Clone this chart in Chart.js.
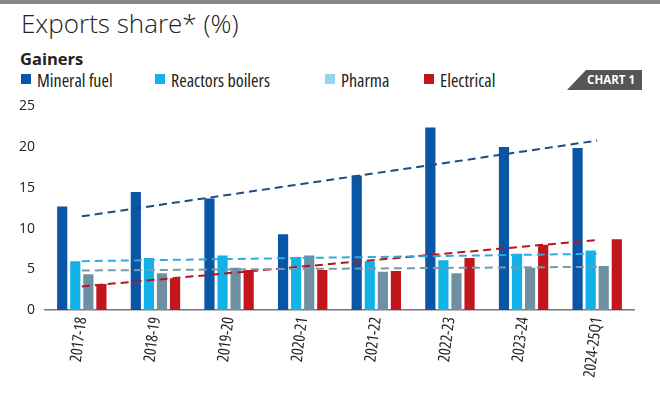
<!DOCTYPE html>
<html>
<head>
<meta charset="utf-8">
<script src="https://cdn.jsdelivr.net/npm/chart.js@4"></script>
<style>
  body { margin: 0; width: 660px; height: 395px; background: #fff; font-family: 'Open Sans', sans-serif; font-stretch: condensed; color: #222; position: relative; overflow: hidden; }
  .topbar { position: absolute; left: 0; top: 0; width: 660px; height: 4px; background: #868686; }
  .title { position: absolute; left: 21px; top: 5px; font-weight: 300; font-size: 26px; font-stretch: normal; }
  .sub { position: absolute; left: 20px; top: 47px; font-weight: 700; font-size: 16.5px; font-stretch: normal; }
  .legend { position: absolute; top: 68px; left: 0; font-size: 18px; }
  .legend span { position: absolute; white-space: nowrap; }
  .legend i { position: absolute; top: 6px; width: 10px; height: 10px; }
  .tag { position: absolute; left: 567px; top: 70px; width: 75px; height: 20px; background: #555; clip-path: polygon(19px 0, 100% 0, 100% 100%, 0 100%); color: #fff; font-weight: 700; font-size: 11.5px; font-stretch: normal; line-height: 20px; text-align: right; padding-right: 7px; box-sizing: border-box; }
  #wrap { position: absolute; left: 0; top: 88px; width: 660px; height: 307px; }
</style>
</head>
<body>
<div class="topbar"></div>
<div class="title">Exports share* (%)</div>
<div class="sub">Gainers</div>
<div class="legend" id="legend"></div>
<div class="tag">CHART 1</div>
<div id="wrap"><canvas id="chart"></canvas></div>
<script>
const categories = ['2017-18', '2018-19', '2019-20', '2020-21', '2021-22', '2022-23', '2023-24', '2024-25Q1'];
const mineralFuel = [12.7, 14.5, 13.7, 9.3, 16.5, 22.4, 20.0, 19.9];
const reactorsBoilers = [6.0, 6.4, 6.7, 6.5, 6.0, 6.1, 6.9, 7.3];
const pharma = [4.4, 4.5, 5.2, 6.7, 4.7, 4.5, 5.2, 5.4];
const electrical = [3.2, 3.9, 4.9, 4.9, 4.8, 6.4, 8.0, 8.7];
// trend lines: value at first and last category
const mineralTrend = [11.5, 20.8];
const reactorsTrend = [6.0, 6.9];
const pharmaTrend = [4.85, 5.3];
const electricalTrend = [2.9, 8.6];
const yTicks = [0, 5, 10, 15, 20, 25];

const legendItems = [
  { label: 'Mineral fuel', color: '#0a56a6', x: 21 },
  { label: 'Reactors boilers', color: '#12b2e8', x: 155 },
  { label: 'Pharma', color: '#92d5f2', x: 325 },
  { label: 'Electrical', color: '#c3161c', x: 424 },
];

document.getElementById('legend').innerHTML = legendItems
  .map((it) => `<span style="left:${it.x}px"><i style="background:${it.color}"></i><b style="font-weight:400;margin-left:16px">${it.label}</b></span>`)
  .join('');

const endpoints = (pair) => categories.map((_, i) => (i === 0 ? pair[0] : i === categories.length - 1 ? pair[1] : null));

const bar = (data, color) => ({
  type: 'bar', data, backgroundColor: color, order: 2,
  categoryPercentage: 0.71, barPercentage: 0.78,
});
const trend = (pair, color) => ({
  type: 'line', data: endpoints(pair), borderColor: color, borderWidth: 2,
  borderDash: [8, 5], pointRadius: 0, spanGaps: true, fill: false, order: 1,
});

// condensed face of Open Sans goes in through the weight slot of the font string
const xFont = { family: "'Open Sans', sans-serif", size: 16, weight: '400 condensed' };
const yFont = { family: "'Open Sans', sans-serif", size: 14, weight: '400' };

new Chart(document.getElementById('chart'), {
  data: {
    labels: categories,
    datasets: [
      bar(mineralFuel, '#0a56a6'),
      bar(reactorsBoilers, '#12b2e8'),
      bar(pharma, '#6f8fa3'),
      bar(electrical, '#c3161c'),
      trend(mineralTrend, '#1d4b82'),
      trend(reactorsTrend, '#2aaede'),
      trend(pharmaTrend, '#7c98a8'),
      trend(electricalTrend, '#b8161c'),
    ],
  },
  options: {
    responsive: true,
    maintainAspectRatio: false,
    animation: false,
    layout: { padding: { top: 2, right: 26, left: 0, bottom: 0 } },
    plugins: { legend: { display: false }, tooltip: { enabled: false } },
    scales: {
      x: {
        grid: { display: false, drawTicks: false },
        border: { color: '#777', width: 1.5 },
        ticks: { color: '#222', maxRotation: 83, minRotation: 83, padding: 6, font: xFont },
        afterFit: (s) => { s.height = 85; },
      },
      y: {
        min: 0, max: 25,
        grid: { display: false, drawTicks: false },
        border: { display: false },
        afterBuildTicks: (s) => { s.ticks = yTicks.map((v) => ({ value: v })); },
        ticks: { color: '#222', padding: 10, font: yFont },
        afterFit: (s) => { s.width = 45; },
      },
    },
  },
});
</script>
</body>
</html>
